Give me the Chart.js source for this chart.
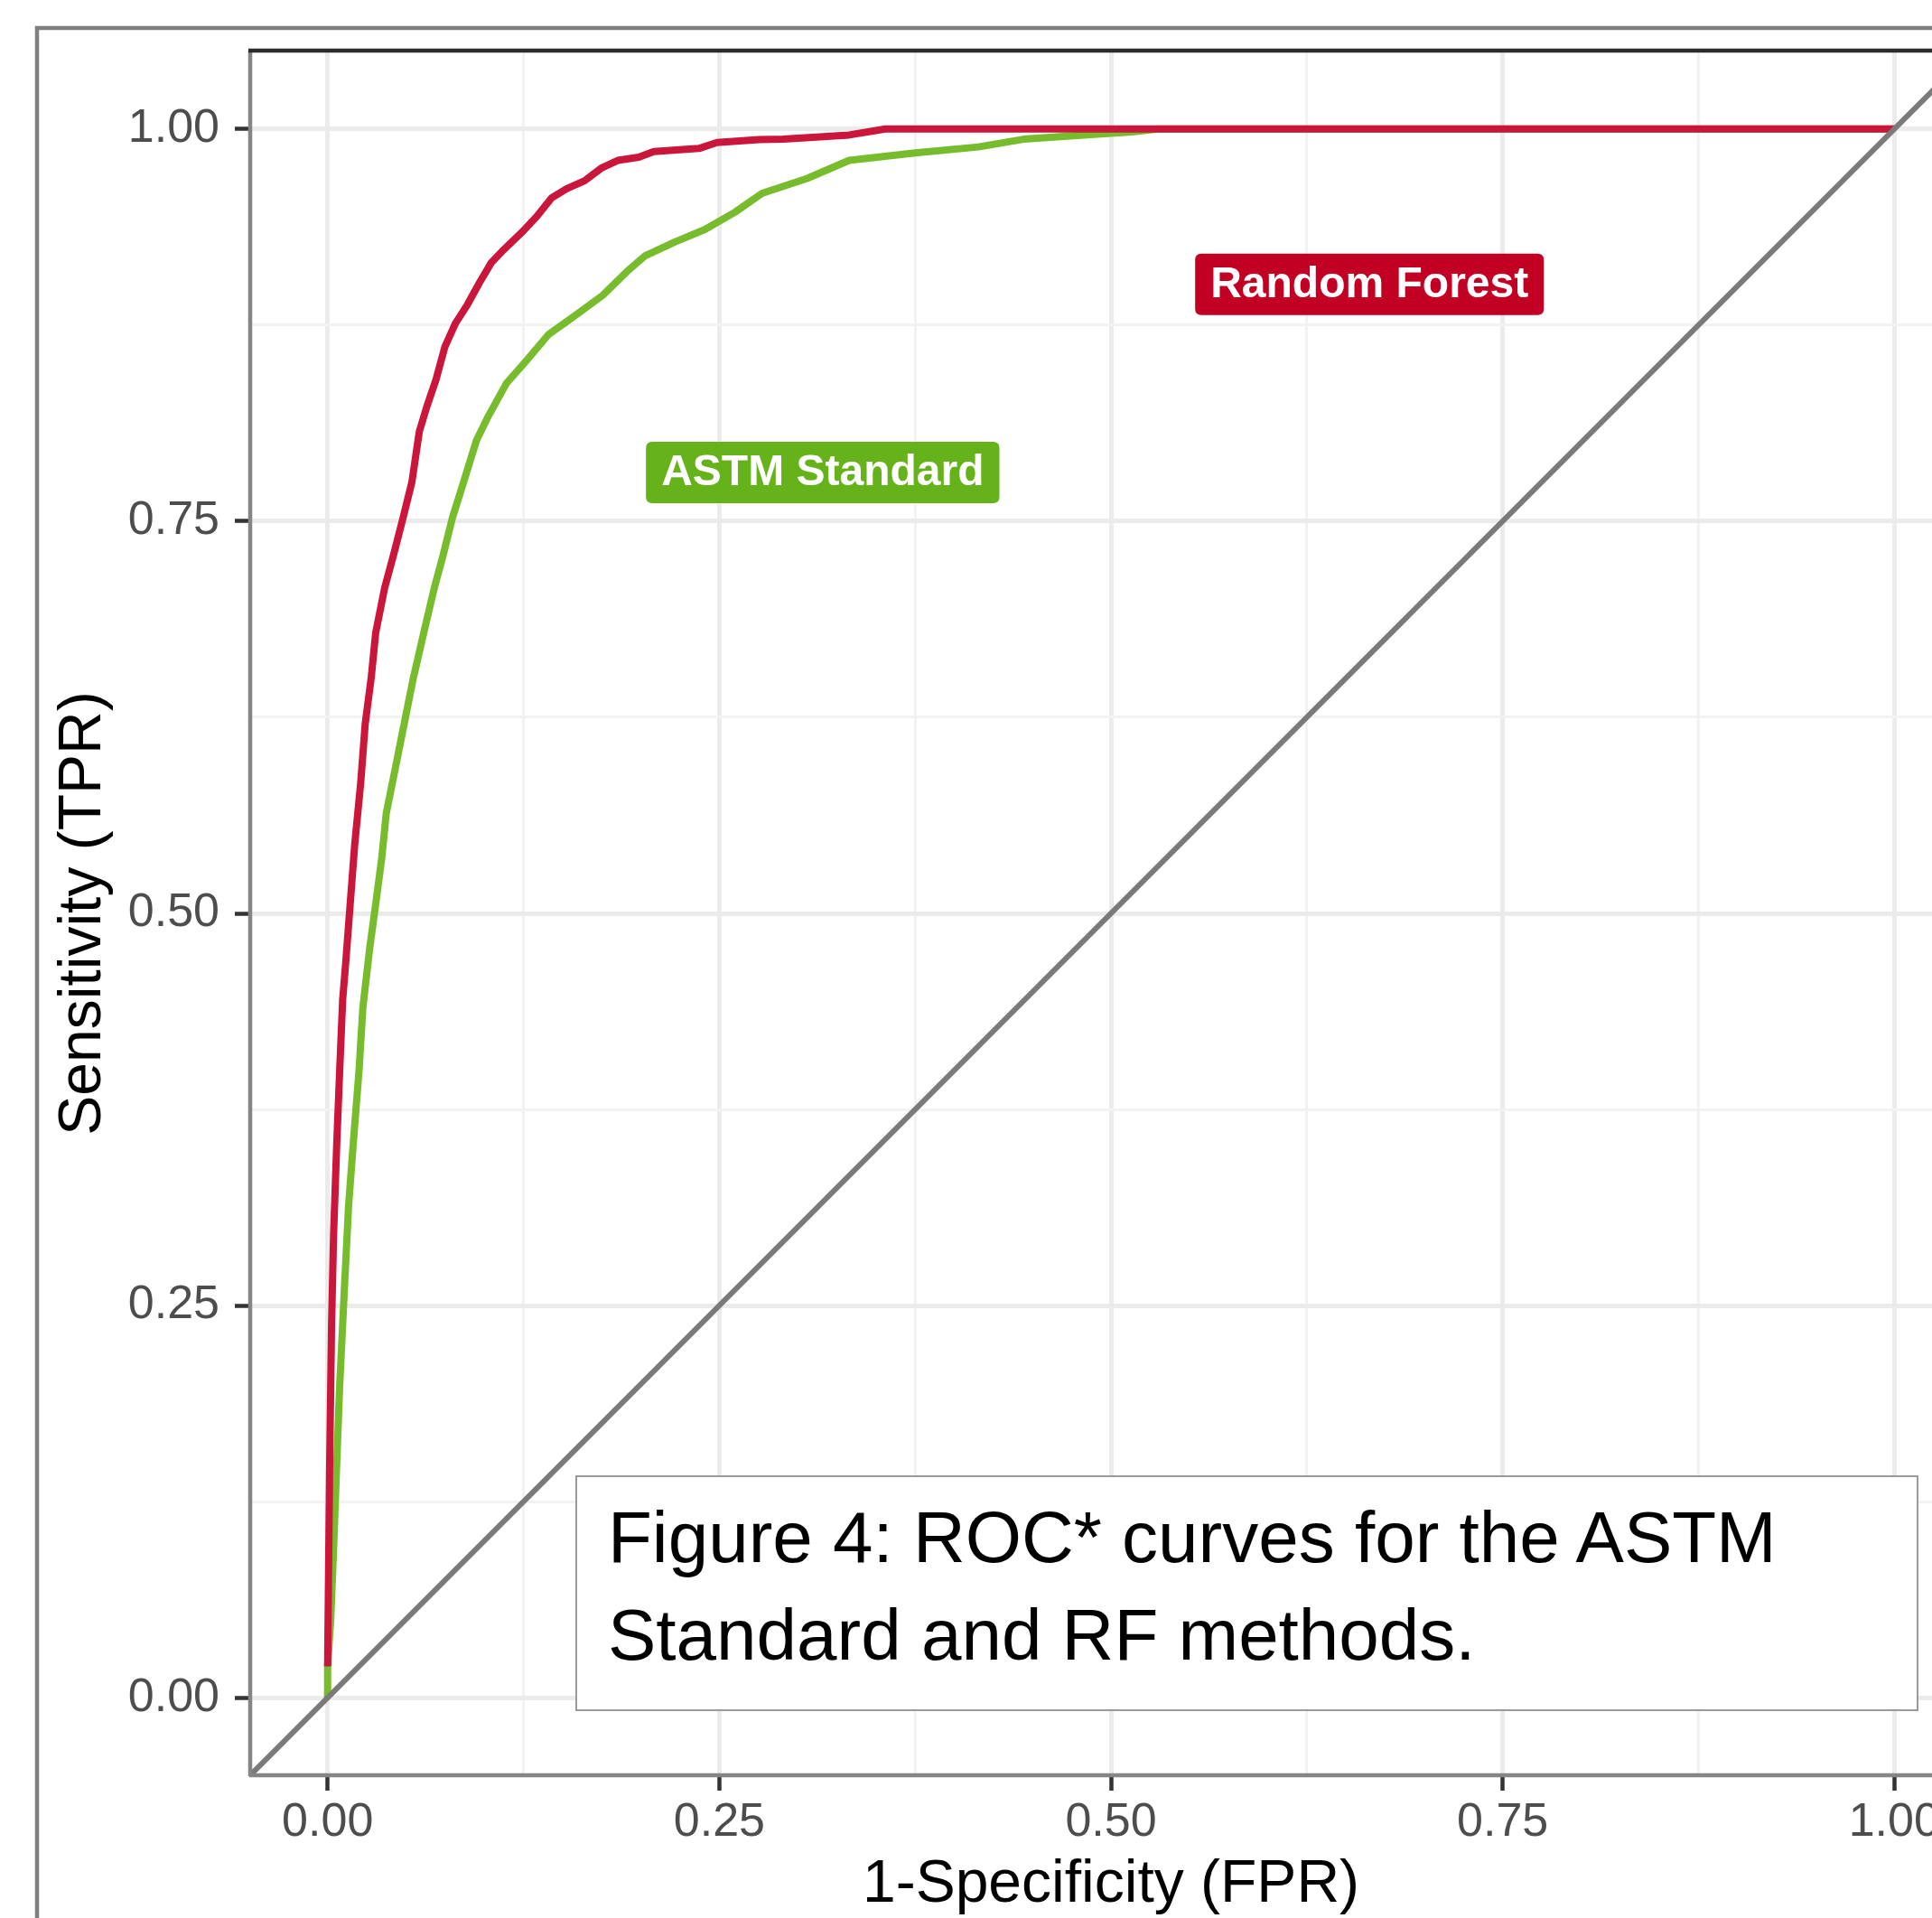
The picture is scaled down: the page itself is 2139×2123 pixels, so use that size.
<!DOCTYPE html>
<html>
<head>
<meta charset="utf-8">
<script src="https://cdn.jsdelivr.net/npm/chart.js@4.4.1/dist/chart.umd.min.js"></script>
<style>
html,body{margin:0;padding:0;background:#fff;overflow:hidden;width:2139px;height:2123px;}
#wrap{position:absolute;left:0;top:0;width:2300px;height:2250px;}
#caption{position:absolute;left:637px;top:1633px;width:1487px;height:261px;box-sizing:border-box;border:2px solid #9a9a9a;background:#fff;padding:13px 0 0 34px;font-family:'Liberation Sans',Arial,Helvetica,sans-serif;font-size:80px;line-height:108px;color:#000;white-space:nowrap;}
</style>
</head>
<body>
<div id="wrap"><canvas id="c" width="2300" height="2250"></canvas></div>
<div id="caption">Figure 4: ROC* curves for the ASTM<br>Standard and RF methods.</div>
<script>
// ---- data ----
const axisMin = -0.05;
const axisMax = 1.05;
const gridTicks = [0, 0.125, 0.25, 0.375, 0.5, 0.625, 0.75, 0.875, 1];
const xTitle = '1-Specificity (FPR)';
const yTitle = 'Sensitivity (TPR)';

const rfFPR = [0, 0.0006, 0.0013, 0.0025, 0.0038, 0.0058, 0.0077, 0.0096, 0.0115, 0.0144, 0.0173, 0.0211, 0.024, 0.0278, 0.0307, 0.0364, 0.0422, 0.0481, 0.0538, 0.0585, 0.0633, 0.0691, 0.0748, 0.0815, 0.0892, 0.0969, 0.1046, 0.1123, 0.1238, 0.1333, 0.1429, 0.1526, 0.164, 0.1746, 0.1852, 0.1986, 0.2082, 0.237, 0.2485, 0.2754, 0.2907, 0.3329, 0.356, 1.0];
const rfTPR = [0.02, 0.08, 0.149, 0.237, 0.295, 0.3525, 0.40, 0.445, 0.468, 0.506, 0.544, 0.583, 0.621, 0.650, 0.679, 0.7075, 0.729, 0.752, 0.775, 0.807, 0.823, 0.840, 0.861, 0.876, 0.888, 0.902, 0.915, 0.923, 0.934, 0.944, 0.956, 0.962, 0.967, 0.975, 0.980, 0.982, 0.9857, 0.9876, 0.9914, 0.9933, 0.9935, 0.9962, 1.0, 1.0];

const astmFPR = [0, 0, 0.002, 0.004, 0.0058, 0.0077, 0.0105, 0.0134, 0.0163, 0.0201, 0.0225, 0.0268, 0.0307, 0.0345, 0.0374, 0.0432, 0.0489, 0.0547, 0.0614, 0.0681, 0.0739, 0.0796, 0.0873, 0.095, 0.1026, 0.1142, 0.1257, 0.141, 0.1564, 0.1756, 0.1909, 0.2024, 0.2216, 0.2408, 0.26, 0.2773, 0.3061, 0.3329, 0.3751, 0.4154, 0.4442, 0.4826, 0.5133, 0.53, 1.0];
const astmTPR = [0, 0.02, 0.05, 0.10, 0.149, 0.199, 0.2566, 0.314, 0.3525, 0.4005, 0.44, 0.4773, 0.506, 0.5348, 0.5636, 0.5924, 0.621, 0.650, 0.679, 0.7075, 0.729, 0.752, 0.7766, 0.8015, 0.817, 0.838, 0.851, 0.869, 0.880, 0.894, 0.909, 0.919, 0.928, 0.936, 0.947, 0.959, 0.9685, 0.98, 0.9848, 0.9886, 0.9935, 0.9962, 0.9981, 1.0, 1.0];

const curveLabels = ['Random Forest', 'ASTM Standard'];
const labelFPR = [0.665, 0.316];
const labelTPR = [0.901, 0.781];

// ---- styles ----
const FONT = "'Liberation Sans', Arial, Helvetica, sans-serif";
const RF_LINE = '#C9163A', RF_FILL = '#C20024';
const ASTM_LINE = '#76BC2C', ASTM_FILL = '#66B21B';
const labelFills = [RF_FILL, ASTM_FILL];

const isMajor = v => Math.abs(v * 4 - Math.round(v * 4)) < 1e-6;
const toPts = (xs, ys) => xs.map((x, i) => ({x: x, y: ys[i]}));

function gridOpts() {
  return {
    color: c => (c.tick && !isMajor(c.tick.value)) ? '#F2F2F2' : '#EBEBEB',
    lineWidth: c => (c.tick && !isMajor(c.tick.value)) ? 3 : 5,
    drawTicks: true,
    tickLength: 16,
    tickWidth: 4.5,
    tickColor: c => (c.tick && !isMajor(c.tick.value)) ? 'rgba(0,0,0,0)' : '#333333'
  };
}
function setTicks(scale) { scale.ticks = gridTicks.map(v => ({value: v})); }
const tickCb = v => isMajor(v) ? Number(v).toFixed(2) : '';

const bgPlugin = {
  id: 'bg',
  beforeDraw(chart) {
    const ctx = chart.ctx;
    ctx.save();
    ctx.fillStyle = '#fff';
    ctx.fillRect(0, 0, chart.width, chart.height);
    ctx.strokeStyle = '#7F7F7F';
    ctx.lineWidth = 4.5;
    ctx.strokeRect(41, 31, 4000, 4000);
    ctx.restore();
  }
};

function roundRect(ctx, x, y, w, h, r) {
  ctx.beginPath();
  ctx.moveTo(x + r, y);
  ctx.lineTo(x + w - r, y);
  ctx.quadraticCurveTo(x + w, y, x + w, y + r);
  ctx.lineTo(x + w, y + h - r);
  ctx.quadraticCurveTo(x + w, y + h, x + w - r, y + h);
  ctx.lineTo(x + r, y + h);
  ctx.quadraticCurveTo(x, y + h, x, y + h - r);
  ctx.lineTo(x, y + r);
  ctx.quadraticCurveTo(x, y, x + r, y);
  ctx.closePath();
}

const labelPlugin = {
  id: 'labels',
  afterDatasetsDraw(chart) {
    const ctx = chart.ctx, xs = chart.scales.x, ys = chart.scales.y;
    ctx.save();
    ctx.font = 'bold 48px ' + FONT;
    curveLabels.forEach((t, i) => {
      const cx = xs.getPixelForValue(labelFPR[i]);
      const cy = ys.getPixelForValue(labelTPR[i]);
      const w = ctx.measureText(t).width + 34, h = 68;
      ctx.fillStyle = labelFills[i];
      roundRect(ctx, cx - w / 2, cy - h / 2, w, h, 7);
      ctx.fill();
      ctx.fillStyle = '#fff';
      ctx.textAlign = 'center';
      ctx.textBaseline = 'middle';
      ctx.fillText(t, cx, cy + 1);
    });
    ctx.restore();
  },
  afterDraw(chart) {
    const ctx = chart.ctx, a = chart.chartArea;
    ctx.save();
    ctx.lineWidth = 4.5;
    ctx.strokeStyle = '#858585';
    ctx.beginPath();
    ctx.moveTo(a.left + 1, a.top); ctx.lineTo(a.left + 1, a.bottom);
    ctx.moveTo(a.left, a.bottom - 1); ctx.lineTo(a.right, a.bottom - 1);
    ctx.moveTo(a.right, a.top); ctx.lineTo(a.right, a.bottom);
    ctx.stroke();
    ctx.strokeStyle = '#2b2b2b';
    ctx.beginPath();
    ctx.moveTo(a.left - 1, a.top); ctx.lineTo(a.right, a.top);
    ctx.stroke();
    ctx.restore();
  }
};

const common = {showLine: true, pointRadius: 0, pointHoverRadius: 0, tension: 0, fill: false, clip: 0, borderJoinStyle: 'round', borderCapStyle: 'butt'};

new Chart(document.getElementById('c'), {
  type: 'scatter',
  data: {
    datasets: [
      Object.assign({label: 'Chance', data: [{x: axisMin, y: axisMin}, {x: axisMax, y: axisMax}], borderColor: '#7A7A7A', borderWidth: 6}, common),
      Object.assign({label: curveLabels[0], data: toPts(rfFPR, rfTPR), borderColor: RF_LINE, borderWidth: 8}, common),
      Object.assign({label: curveLabels[1], data: toPts(astmFPR, astmTPR), borderColor: ASTM_LINE, borderWidth: 8}, common)
    ]
  },
  options: {
    responsive: false,
    animation: false,
    events: [],
    layout: {padding: {left: 0, top: 56, right: 116, bottom: 0}},
    plugins: {legend: {display: false}, tooltip: {enabled: false}},
    scales: {
      x: {
        type: 'linear', position: 'bottom', min: axisMin, max: axisMax,
        afterBuildTicks: setTicks,
        afterFit: s => { s.height = 284; },
        grid: gridOpts(),
        border: {display: false},
        ticks: {callback: tickCb, color: '#4D4D4D', font: {family: FONT, size: 52}, padding: 4, maxRotation: 0, autoSkip: false},
        title: {display: true, text: xTitle, color: '#000', font: {family: FONT, size: 66}, padding: {top: 0, bottom: 124}}
      },
      y: {
        type: 'linear', position: 'left', min: axisMin, max: axisMax,
        afterBuildTicks: setTicks,
        afterFit: s => { s.width = 276; },
        grid: gridOpts(),
        border: {display: false},
        ticks: {callback: tickCb, color: '#4D4D4D', font: {family: FONT, size: 52}, padding: 17, autoSkip: false},
        title: {display: true, text: yTitle, color: '#000', font: {family: FONT, size: 66}, padding: {top: 53, bottom: 0}}
      }
    }
  },
  plugins: [bgPlugin, labelPlugin]
});
</script>
</body>
</html>
